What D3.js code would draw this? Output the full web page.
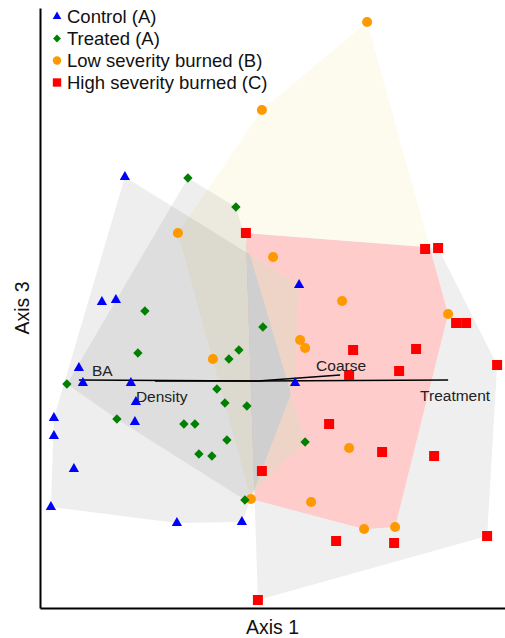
<!DOCTYPE html>
<html><head><meta charset="utf-8">
<script src="https://cdn.jsdelivr.net/npm/d3@7"></script>
<style>
body{margin:0;background:#fff;}
svg{display:block;font-family:"Liberation Sans",Arial,sans-serif;}
</style>
</head><body>
<svg id="c" width="505" height="638"></svg>
<script>
// ---- data (NMDS scores: Axis 1, Axis 3) ----
const groupNames = ["Control (A)", "Treated (A)", "Low severity burned (B)", "High severity burned (C)"];
const control = [[-0.738,0.655],[-0.853,0.03],[-0.783,0.04],[-0.968,-0.30],[-0.948,-0.375],[-0.708,-0.375],
  [-0.683,-0.47],[-0.688,-0.57],[-1.093,-0.55],[-1.093,-0.64],[-0.993,-0.805],[-1.108,-0.995],
  [-0.478,-1.075],[-0.153,-1.07],[0.133,0.115],[0.113,-0.375]];
const treated = [[-0.423,0.65],[-0.183,0.505],[-0.638,-0.015],[-0.048,-0.095],[-0.673,-0.225],[-0.168,-0.21],
  [-0.218,-0.255],[-0.278,-0.405],[-0.238,-0.475],[-0.128,-0.49],[-0.443,-0.58],[-0.388,-0.58],
  [-0.228,-0.66],[-0.368,-0.73],[-0.303,-0.74],[0.163,-0.67],[-1.028,-0.38],[-0.778,-0.555],[-0.138,-0.96]];
const lowSeverity = [[0.473,1.43],[-0.053,0.99],[-0.473,0.375],[0.003,0.255],[0.348,0.035],[0.138,-0.16],
  [0.163,-0.20],[-0.298,-0.255],[0.878,-0.03],[0.383,-0.70],[0.193,-0.97],[0.458,-1.105],[0.613,-1.095],[-0.108,-0.955]];
const highSeverity = [[-0.133,0.375],[0.763,0.295],[0.828,0.30],[0.918,-0.075],[0.968,-0.075],[0.403,-0.21],
  [0.718,-0.205],[0.383,-0.335],[0.633,-0.315],[1.123,-0.285],[0.283,-0.58],[0.548,-0.72],[0.808,-0.74],
  [-0.053,-0.815],[0.318,-1.165],[0.608,-1.175],[1.073,-1.14],[-0.073,-1.46]];
const vectorNames = ["BA", "Density", "Coarse", "Treatment"];
const vectorOrigin = [-0.073, -0.365];
const vectorEnds = [[-0.968,-0.36],[-0.588,-0.365],[0.338,-0.335],[0.878,-0.36]];
const axisTitles = ["Axis 1", "Axis 3"];

// ---- styles ----
const colors = ["#0000ff", "#008000", "#ff9900", "#ff0000"];
const labelOffsets = [[13,-4],[-19,21],[-24,-4],[-28,21]];

const svg = d3.select("#c");
const xScale = d3.scaleLinear().domain([-1.1625, 1.1625]).range([40, 505]);
const yScale = d3.scaleLinear().domain([-1.5, 1.5]).range([608, 8]);

const proj = pts => pts.map(p => [xScale(p[0]), yScale(p[1])]);
const hullPath = pts => "M" + d3.polygonHull(proj(pts)).join("L") + "Z";

const hC = hullPath(control), hT = hullPath(treated), hL = hullPath(lowSeverity), hH = hullPath(highSeverity);

const defs = svg.append("defs");
defs.append("clipPath").attr("id","clipLow").append("path").attr("d", hL);
defs.append("clipPath").attr("id","clipHigh").append("path").attr("d", hH);
defs.append("clipPath").attr("id","clipTreated").append("path").attr("d", hT);

const hulls = svg.append("g");
hulls.append("path").attr("d", hL).attr("fill", "#fdfaee");
hulls.append("path").attr("d", hH).attr("fill", "#efefef");
const inter = hulls.append("g").attr("clip-path","url(#clipLow)").append("g").attr("clip-path","url(#clipHigh)");
inter.append("path").attr("d", hH).attr("fill", "#ffcccc");
inter.append("path").attr("d", hC).attr("fill", "#ffe4d6");
inter.append("path").attr("d", hT).attr("fill", "#ffe4d6");
inter.append("g").attr("clip-path","url(#clipTreated)").append("path").attr("d", hC).attr("fill", "#eeeeee");
hulls.append("path").attr("d", hC).attr("fill", "#000").attr("fill-opacity", 0.065);
hulls.append("path").attr("d", hT).attr("fill", "#000").attr("fill-opacity", 0.065);

// axes (no ticks)
svg.append("g").attr("transform","translate(0,608)")
  .call(d3.axisBottom(xScale).tickValues([]).tickSizeOuter(0))
  .select(".domain").attr("stroke","#000").attr("stroke-width",2);
svg.append("g").attr("transform","translate(40,0)")
  .call(d3.axisLeft(yScale).tickValues([]).tickSizeOuter(0))
  .select(".domain").attr("stroke","#000").attr("stroke-width",2);

svg.append("text").attr("x", (xScale.range()[0]+xScale.range()[1])/2).attr("y", 634)
  .attr("text-anchor","middle").attr("font-size", 19.5).attr("fill","#111").text(axisTitles[0]);
svg.append("text").attr("transform", `translate(29,${(yScale.range()[0]+yScale.range()[1])/2}) rotate(-90)`)
  .attr("text-anchor","middle").attr("font-size", 19.5).attr("fill","#111").text(axisTitles[1]);

// vectors
const vg = svg.append("g");
vectorEnds.forEach((e, i) => {
  vg.append("line").attr("x1", xScale(vectorOrigin[0])).attr("y1", yScale(vectorOrigin[1]))
    .attr("x2", xScale(e[0])).attr("y2", yScale(e[1])).attr("stroke","#000").attr("stroke-width",1.5);
});

// points
const symTri = d3.symbol().type(d3.symbolTriangle);
const symSq = d3.symbol().type(d3.symbolSquare);
const symCirc = d3.symbol().type(d3.symbolCircle);
function drawMarker(g, k, x, y, scale) {
  const s = scale || 1;
  if (k === 0) g.append("path").attr("d", symTri.size(46*s)()).attr("transform",`translate(${x},${y})`).attr("fill", colors[0]);
  if (k === 1) g.append("path").attr("d", symSq.size(44*s)()).attr("transform",`translate(${x},${y}) rotate(45)`).attr("fill", colors[1]);
  if (k === 2) g.append("path").attr("d", symCirc.size(80*s)()).attr("transform",`translate(${x},${y})`).attr("fill", colors[2]);
  if (k === 3) g.append("path").attr("d", symSq.size(100*s)()).attr("transform",`translate(${x},${y})`).attr("fill", colors[3]);
}
const pg = svg.append("g");
[[2, lowSeverity], [3, highSeverity], [0, control], [1, treated]].forEach(([k, pts]) => {
  pts.forEach(p => drawMarker(pg, k, xScale(p[0]), yScale(p[1])));
});

// vector labels
vectorNames.forEach((n, i) => {
  svg.append("text").attr("x", xScale(vectorEnds[i][0]) + labelOffsets[i][0])
    .attr("y", yScale(vectorEnds[i][1]) + labelOffsets[i][1])
    .attr("font-size", 15.5).attr("fill","#222").text(n);
});

// legend
const lg = svg.append("g");
groupNames.forEach((n, i) => {
  const by = 23 + i * 22;
  drawMarker(lg, i, 57, by - 6.5, 0.7);
  lg.append("text").attr("x", 67).attr("y", by).attr("font-size", 18.5).attr("fill","#111").text(n);
});
</script>
</body></html>
